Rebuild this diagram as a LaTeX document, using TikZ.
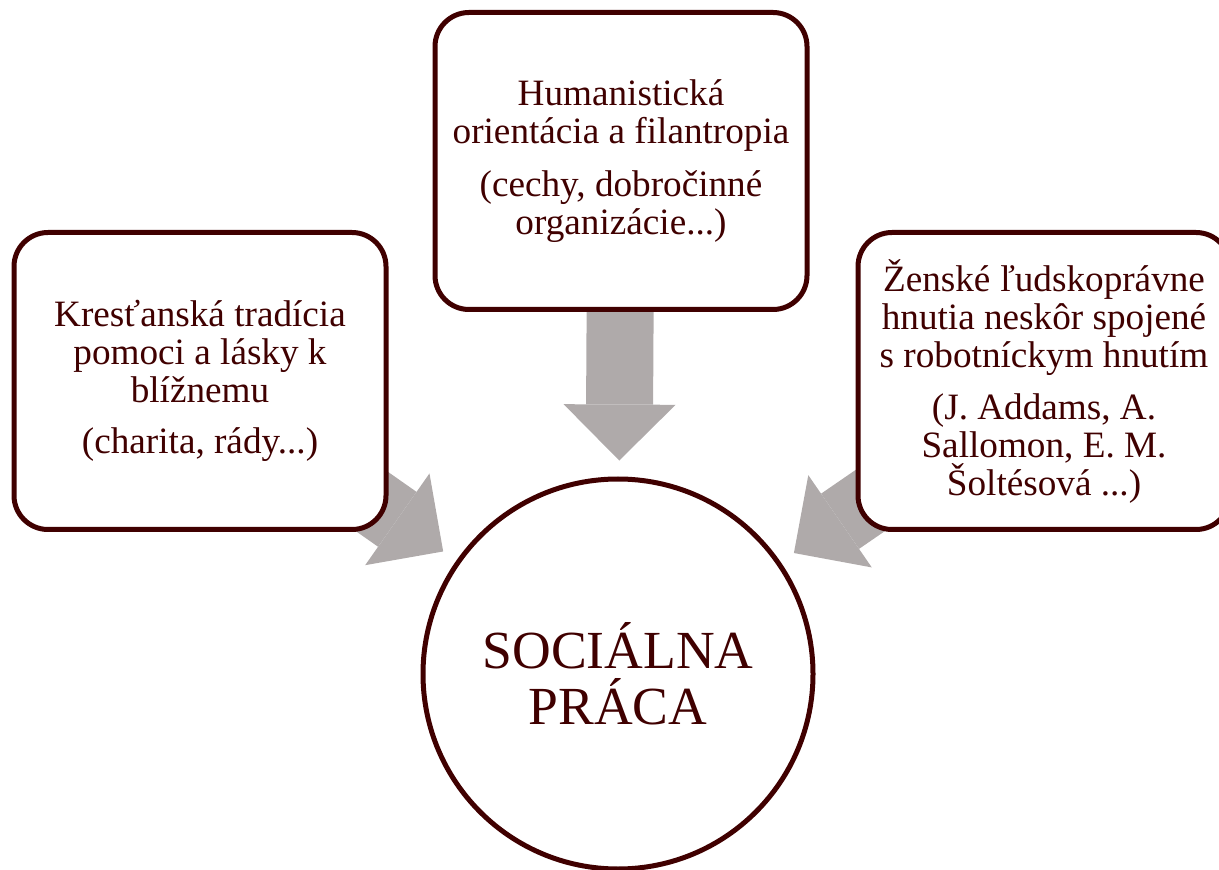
\documentclass[tikz,border=0pt]{standalone}
\usepackage{fontspec}
\setmainfont{Liberation Serif}
\usetikzlibrary{arrows.meta,backgrounds}
\definecolor{boxline}{RGB}{64,0,0}
\definecolor{arrowgray}{RGB}{175,170,170}

\begin{document}
\begin{tikzpicture}[
x=0.5pt, y=-0.5pt,
font=\fontsize{18.6}{19}\selectfont,
topic/.style={rectangle,rounded corners=17pt,draw=boxline,fill=white,line width=2.5pt,
  text=boxline,minimum width=186pt,minimum height=148.5pt,align=center,inner sep=0pt},
core/.style={circle,draw=boxline,fill=white,line width=2.5pt,text=boxline,
  minimum size=195pt,align=center,inner sep=0pt,font=\fontsize{26.8}{28}\selectfont},
feed/.style={-{Triangle[length=28pt,width=56pt,line width=0pt]},line width=33.5pt,
  draw=arrowgray,shorten >=8pt}
]
\useasboundingbox (0,0) rectangle (1219,870);
\node[topic] (hum) at (621,161) {Humanistická\\orientácia a filantropia\\[7.5pt](cechy, dobročinné\\organizácie...)};
\node[topic] (chr) at (200,381) {Kresťanská tradícia\\pomoci a lásky k\\blížnemu\\[6.5pt](charita, rády...)};
\node[topic] (fem) at (1044,381) {Ženské ľudskoprávne\\hnutia neskôr spojené\\s robotníckym hnutím\\[7pt](J. Addams, A.\\Sallomon, E. M.\\Šoltésová ...)};
\node[core] (soc) at (618,674) {SOCIÁLNA\\PRÁCA};

\begin{scope}[on background layer]
\draw[feed] (hum.center) -- (soc);
\draw[feed] (chr.center) -- (soc);
\draw[feed] (fem.center) -- (soc);
\end{scope}

\end{tikzpicture}
\end{document}
